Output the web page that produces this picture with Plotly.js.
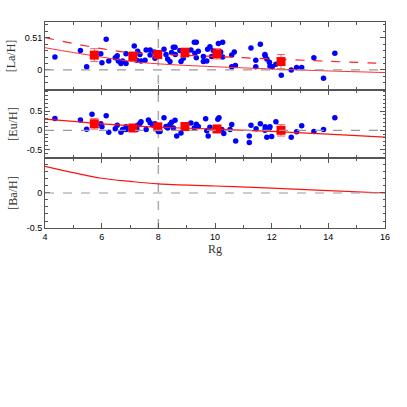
<!DOCTYPE html>
<html>
<head>
<meta charset="utf-8">
<script src="https://cdn.plot.ly/plotly-3.0.1.min.js"></script>
<style>
  html, body { margin: 0; padding: 0; background: #fff; }
  #plot { width: 407px; height: 407px; }
</style>
</head>
<body>
<div id="plot"></div>
<script>
// ---- [La/H] panel: stars ----
let laX = [4.35, 5.25, 5.47, 5.97, 6.01, 6.16, 6.25, 6.48, 6.55, 6.59, 6.68, 6.74, 6.86, 6.86,
  7.15, 7.27, 7.35, 7.24, 7.39, 7.57, 7.71, 7.53, 7.71, 7.86, 7.88,
  8.20, 8.27, 8.33, 8.41, 8.53, 8.59, 8.47, 8.60, 8.76, 8.80, 8.88, 9.15, 9.27, 9.34, 9.29, 9.34,
  9.41, 9.59, 9.59, 9.71, 9.74, 9.82, 9.88, 9.94, 10.12, 10.27, 10.20, 10.27, 10.59, 10.68,
  10.59, 10.72, 11.27, 11.60, 11.44, 11.44, 11.76, 11.77, 11.83, 11.92, 11.94, 12.02, 12.15,
  12.34, 12.69, 12.88, 13.06, 13.49, 13.83, 14.23];
let laY = [0.20, 0.30, 0.05, 0.25, 0.11, 0.475, 0.14, 0.19, 0.22, 0.14, 0.10, 0.14, 0.10, 0.25,
  0.37, 0.29, 0.24, 0.15, 0.14, 0.31, 0.31, 0.15, 0.23, 0.28, 0.18,
  0.32, 0.24, 0.17, 0.13, 0.35, 0.35, 0.27, 0.24, 0.30, 0.13, 0.18, 0.31, 0.43, 0.43, 0.26, 0.19,
  0.29, 0.21, 0.13, 0.14, 0.32, 0.36, 0.21, 0.30, 0.41, 0.43, 0.28, 0.20, 0.23, 0.28,
  0.05, 0.07, 0.34, 0.40, 0.15, 0.05, 0.24, 0.22, 0.17, 0.12, 0.06, 0.05, 0.09,
  -0.08, 0.00, 0.04, 0.04, 0.19, -0.13, 0.26];

// ---- [Eu/H] panel: stars ----
let euX = [4.35, 5.25, 5.47, 5.66, 5.97, 6.01, 6.16, 6.25, 6.48, 6.55, 6.68, 6.74, 6.86, 6.86,
  7.27, 7.35, 7.24, 7.39, 7.57, 7.65, 7.71, 7.80, 7.88, 7.94, 8.00,
  8.20, 8.06, 8.27, 8.33, 8.41, 8.47, 8.53, 8.59, 8.65, 8.80, 9.15, 9.27, 9.34, 9.41, 9.67,
  9.71, 9.76, 9.82, 10.10, 10.14, 10.24, 10.31, 10.59, 10.53, 10.73, 11.21, 11.21, 11.27,
  11.45, 11.60, 11.77, 11.92, 11.94, 11.83, 12.00, 11.76, 12.15, 12.69, 12.88, 13.06, 13.49,
  13.83, 14.23];
let euY = [0.31, 0.27, 0.03, 0.42, 0.17, 0.095, 0.38, -0.05, 0.04, 0.13, -0.05, 0.02, 0.02, 0.09,
  0.13, 0.18, 0.03, 0.22, 0.02, 0.27, 0.20, 0.14, 0.17, 0.06, -0.03,
  0.33, -0.03, 0.10, 0.06, 0.15, 0.21, 0.06, 0.26, -0.15, -0.07, 0.19, 0.06, 0.16, 0.10, 0.30,
  -0.01, -0.15, 0.08, 0.29, 0.33, 0.02, -0.08, 0.15, 0.02, -0.28, -0.15, -0.32, 0.13,
  0.04, 0.17, 0.09, 0.06, 0.09, -0.18, -0.16, 0.00, 0.22, -0.18, -0.04, 0.12, -0.03,
  0.02, 0.33];

// ---- binned means (red squares) ----
let binX = [5.74, 7.10, 7.98, 8.94, 10.07, 12.33];
let laBin = [0.23, 0.21, 0.24, 0.27, 0.25, 0.13];
let laBinErr = [0.10, 0.07, 0.06, 0.07, 0.08, 0.11];
let euBin = [0.17, 0.06, 0.09, 0.10, 0.035, 0.00];
let euBinErr = [0.14, 0.06, 0.05, 0.06, 0.08, 0.15];

// ---- model gradients ----
let modelX = [4, 5, 6, 7, 8, 10, 12, 14, 16];
let laModelDash = [0.50, 0.41, 0.33, 0.27, 0.245, 0.21, 0.17, 0.135, 0.10];
let laModelSolid = [0.345, 0.27, 0.20, 0.135, 0.095, 0.05, 0.015, -0.015, -0.04];
let euModel = [0.29, 0.23, 0.17, 0.12, 0.08, 0.03, -0.03, -0.10, -0.18];
let baModel = [0.38, 0.29, 0.21, 0.165, 0.13, 0.10, 0.07, 0.035, 0.0];

let blue = { color: "#0000ff", size: 5.5 };
let redSq = { color: "#ff0000", size: 9, symbol: "square" };
let errStyle = (arr) => ({ type: "data", array: arr, visible: true, color: "#ff6060", thickness: 1, width: 4 });

let data = [
  { x: laX, y: laY, xaxis: "x", yaxis: "y", mode: "markers", type: "scatter", marker: blue },
  { x: modelX, y: laModelDash, xaxis: "x", yaxis: "y", mode: "lines", line: { color: "#ff2020", width: 1.2, dash: "dash", shape: "spline" } },
  { x: modelX, y: laModelSolid, xaxis: "x", yaxis: "y", mode: "lines", line: { color: "#ff3030", width: 1, shape: "spline" } },
  { x: binX, y: laBin, xaxis: "x", yaxis: "y", mode: "markers", marker: redSq, error_y: errStyle(laBinErr) },

  { x: euX, y: euY, xaxis: "x2", yaxis: "y2", mode: "markers", marker: blue },
  { x: modelX, y: euModel, xaxis: "x2", yaxis: "y2", mode: "lines", line: { color: "#ff1010", width: 1.2, shape: "spline" } },
  { x: binX, y: euBin, xaxis: "x2", yaxis: "y2", mode: "markers", marker: redSq, error_y: errStyle(euBinErr) },

  { x: modelX, y: baModel, xaxis: "x3", yaxis: "y3", mode: "lines", line: { color: "#ff1010", width: 1.2, shape: "spline" } }
];

let tickFont = { family: "Liberation Sans, Arial, sans-serif", size: 9, color: "#000" };
let titleFont = { family: "Liberation Serif, Times New Roman, serif", size: 12, color: "#333" };

function xAxis(anchor, labels) {
  return {
    anchor: anchor, range: [4, 16], dtick: 2, tick0: 4,
    showline: true, linecolor: "#555", linewidth: 1, mirror: "ticks",
    ticks: "inside", ticklen: 5, tickcolor: "#555",
    minor: { ticks: "inside", dtick: 1, ticklen: 3, tickcolor: "#555" },
    showgrid: false, zeroline: false, showticklabels: labels, tickfont: tickFont
  };
}
function yAxis(anchor, domain, range, vals, text, title) {
  return {
    anchor: anchor, domain: domain, range: range,
    tickvals: vals, ticktext: text,
    showline: true, linecolor: "#555", linewidth: 1, mirror: "ticks",
    ticks: "inside", ticklen: 5, tickcolor: "#555",
    minor: { ticks: "inside", dtick: 0.1, ticklen: 2.5, tickcolor: "#555" },
    showgrid: false, zeroline: false, tickfont: tickFont,
    title: { text: title, font: titleFont, standoff: 6 }
  };
}

let xTitle = xAxis("y3", true);
xTitle.title = { text: "Rg", font: titleFont, standoff: 2 };

let zeroLine = (yref) => ({ type: "line", xref: "x", yref: yref, x0: 4, x1: 16, y0: 0, y1: 0,
  line: { color: "#999", width: 1.2, dash: "dash" } });

let layout = {
  width: 407, height: 407,
  margin: { l: 45, r: 22, t: 22, b: 179 },
  showlegend: false,
  paper_bgcolor: "#fff", plot_bgcolor: "#fff",
  xaxis: xAxis("y", false),
  xaxis2: Object.assign(xAxis("y2", false), { matches: "x" }),
  xaxis3: Object.assign(xTitle, { matches: "x" }),
  yaxis: yAxis("x", [0.67, 1], [-0.31, 0.743], [0, 0.5], ["0", "0.51"], "[La/H]"),
  yaxis2: yAxis("x2", [0.34, 0.67], [-0.72, 1.05], [-0.5, 0, 0.5], ["-0.5", "0", "0.5"], "[Eu/H]"),
  yaxis3: yAxis("x3", [0, 0.34], [-0.5, 0.5], [-0.5, 0, 0.5], ["-0.5", "0", ""], "[Ba/H]"),
  shapes: [
    zeroLine("y"), zeroLine("y2"), zeroLine("y3"),
    { type: "line", xref: "x", yref: "paper", x0: 8, x1: 8, y0: 0, y1: 1,
      line: { color: "#aaa", width: 1.5, dash: "dash" }, layer: "below" }
  ]
};

Plotly.newPlot("plot", data, layout, { displayModeBar: false, staticPlot: true });
</script>
</body>
</html>
